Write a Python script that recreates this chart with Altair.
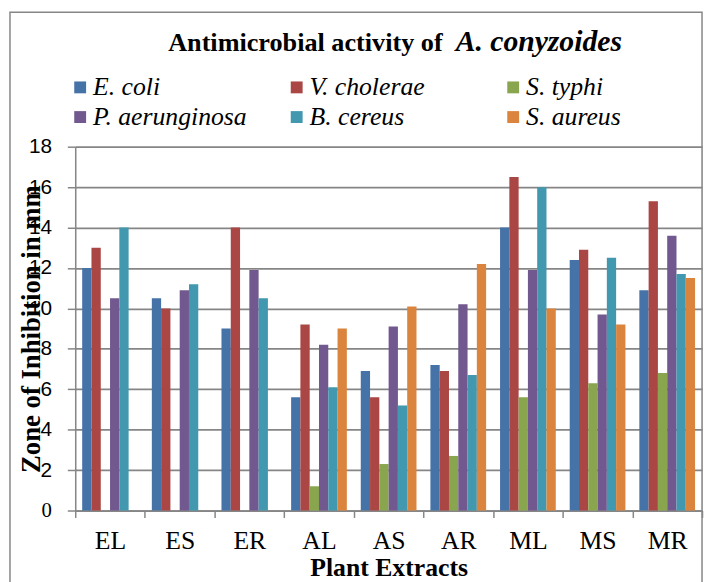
import altair as alt
import pandas as pd

extracts = ["EL", "ES", "ER", "AL", "AS", "AR", "ML", "MS", "MR"]
organisms = ["E. coli", "V. cholerae", "S. typhi", "P. aerunginosa", "B. cereus", "S. aureus"]
colors = ["#4572A7", "#AA4643", "#89A54E", "#71588F", "#4198AF", "#DB843D"]

e_coli = [12.0, 10.5, 9.0, 5.6, 6.9, 7.2, 14.0, 12.4, 10.9]
v_cholerae = [13.0, 10.0, 14.0, 9.2, 5.6, 6.9, 16.5, 12.9, 15.3]
s_typhi = [0.0, 0.0, 0.0, 1.2, 2.3, 2.7, 5.6, 6.3, 6.8]
p_aerunginosa = [10.5, 10.9, 11.9, 8.2, 9.1, 10.2, 11.9, 9.7, 13.6]
b_cereus = [14.0, 11.2, 10.5, 6.1, 5.2, 6.7, 16.0, 12.5, 11.7]
s_aureus = [0.0, 0.0, 0.0, 9.0, 10.1, 12.2, 10.0, 9.2, 11.5]

y_ticks = [0, 2, 4, 6, 8, 10, 12, 14, 16, 18]
title_plain = "Antimicrobial activity of"
title_italic = "A. conyzoides"
x_title = "Plant Extracts"
y_title = "Zone of Inhibition in mm"

series = [e_coli, v_cholerae, s_typhi, p_aerunginosa, b_cereus, s_aureus]
rows = []
for org, vals in zip(organisms, series):
    for ex, v in zip(extracts, vals):
        rows.append({"Extract": ex, "Organism": org, "Value": v})
df = pd.DataFrame(rows)

GRID = "#868686"

bars = alt.Chart(df).mark_bar(stroke=None).encode(
    x=alt.X("Extract:N", sort=extracts,
            scale=alt.Scale(paddingInner=0, paddingOuter=0),
            axis=alt.Axis(title=x_title, labelAngle=0, tickBand="extent",
                          labelFont="Liberation Serif", labelFontSize=26,
                          labelColor="black", labelPadding=10,
                          titleFont="Liberation Serif", titleFontSize=26,
                          titleFontWeight="bold", titleColor="black", titlePadding=2,
                          domainColor=GRID, domainWidth=1.5, tickColor=GRID,
                          tickWidth=1.5, tickSize=7, grid=False)),
    xOffset=alt.XOffset("Organism:N", sort=organisms,
                        scale=alt.Scale(paddingInner=0, paddingOuter=0.75)),
    y=alt.Y("Value:Q", scale=alt.Scale(domain=[0, 18], nice=False),
            axis=alt.Axis(title=y_title, values=y_ticks,
                          labelFont={"condition": {"test": "datum.value == 0", "value": "Liberation Serif"},
                                     "value": "Liberation Sans"},
                          labelFontSize=21, labelColor="black", labelPadding=16,
                          titleFont="Liberation Serif", titleFontSize=27,
                          titleFontWeight="bold", titleColor="black",
                          titleAngle=270, titleX=-36, titleY=184,
                          titleAlign="center", titleBaseline="alphabetic",
                          domainColor=GRID, domainWidth=1.5, tickColor=GRID,
                          tickWidth=1.5, tickSize=8,
                          grid=True, gridColor=GRID, gridWidth=1.75)),
    color=alt.Color("Organism:N", sort=organisms,
                    scale=alt.Scale(domain=organisms, range=colors),
                    legend=alt.Legend(title=None, orient="none", legendX=-8, legendY=-73,
                                      direction="horizontal",
                                      columns=3, gridAlign="all", columnPadding=37,
                                      rowPadding=4, padding=0,
                                      symbolType="square", symbolSize=144,
                                      symbolStrokeWidth=0, labelOffset=0,
                                      labelFont="Liberation Serif", labelFontSize=26,
                                      labelFontStyle="italic", labelColor="black",
                                      labelLimit=400)),
)

one = pd.DataFrame({"k": [0]})

title_a = alt.Chart(one).mark_text(
    text=title_plain, font="Liberation Serif", fontSize=26.5, fontWeight="bold",
    align="left", baseline="alphabetic", color="black"
).encode(x=alt.value(94), y=alt.value(-97))

title_b = alt.Chart(one).mark_text(
    text=title_italic, font="Liberation Serif", fontSize=30, fontWeight="bold",
    fontStyle="italic", align="right", baseline="alphabetic", color="black"
).encode(x=alt.value(553), y=alt.value(-97))

frame = alt.Chart(one).mark_rect(
    fill=None, fillOpacity=0, stroke=GRID, strokeWidth=1.5
).encode(x=alt.value(-66), x2=alt.value(634), y=alt.value(-136), y2=alt.value(480))

chart = alt.layer(frame, bars, title_a, title_b).properties(
    width=634, height=368,
    autosize=alt.AutoSizeParams(type="none"),
    padding={"left": 68, "top": 137, "right": 2, "bottom": 69},
).configure_view(strokeWidth=0).configure(background="white")

chart.save("out.html", embed_options={"renderer": "svg", "actions": False})
